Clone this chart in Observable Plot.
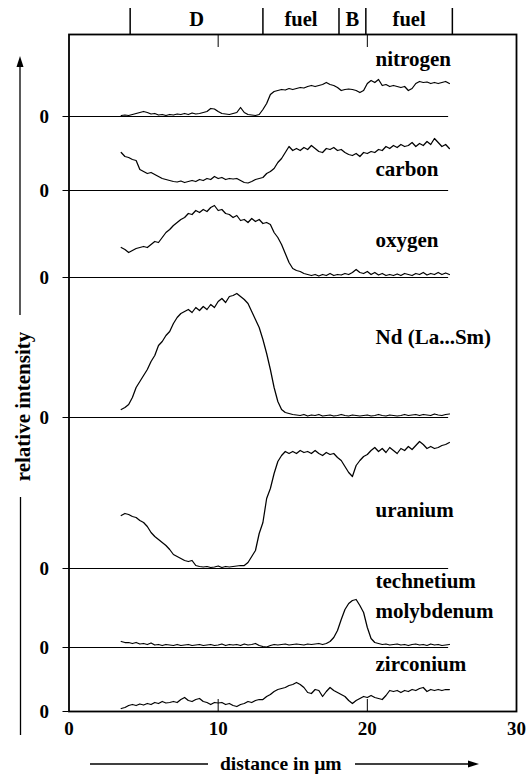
<!DOCTYPE html>
<html><head><meta charset="utf-8">
<script src="https://cdn.jsdelivr.net/npm/d3@7"></script>
<script src="https://cdn.jsdelivr.net/npm/@observablehq/plot@0.6"></script>
<style>html,body{margin:0;padding:0;background:#fff} svg{display:block}</style>
</head><body><div id="chart"></div>
<script>
// ---------- DATA ----------
// distance along the scan, µm
const distance = [3.5,3.75,4,4.25,4.5,4.75,5,5.25,5.5,5.75,6,6.25,6.5,6.75,7,7.25,7.5,7.75,8,8.25,8.5,8.75,9,9.25,9.5,9.75,10,10.25,10.5,10.75,11,11.25,11.5,11.75,12,12.25,12.5,12.75,13,13.25,13.5,13.75,14,14.25,14.5,14.75,15,15.25,15.5,15.75,16,16.25,16.5,16.75,17,17.25,17.5,17.75,18,18.25,18.5,18.75,19,19.25,19.5,19.75,20,20.25,20.5,20.75,21,21.25,21.5,21.75,22,22.25,22.5,22.75,23,23.25,23.5,23.75,24,24.25,24.5,24.75,25,25.25,25.5];

// relative intensities (arbitrary units, each above its own zero line)
const nitrogen = [
  1,1.5,1,2,3,4,5,4,
  2.5,3,1.5,2,1,2,1.5,2.5,
  2,3,2,3.5,2.5,3,4,5,
  8,7.5,5,3,2.5,2,3,4,
  9,4,2,1.5,1,2,7,13,
  22,25,26,27,26.5,28,27,28,
  29,28.5,30,31,30,31,32,34,
  32,31,29,26,27,27.5,27,26,
  24,26,33,36,34,37,31,32,
  30,31,30,29,30,26,28,33,
  35,34,34.5,33,34,33,34,35,
  33];
const carbon = [
  38,34,33,31,30,21,19,17,
  18,16,14,12,11,10,9,8.5,
  9.5,8,9,10,9,11,10,12,
  11,14,12,13,11,12,11.5,12,
  10,8,7.5,9,11,12,13,17,
  19,22,28,32,38,44,40,42,
  40,43,41,45,42,39,38,42,
  41,43,40,41,38,36,35,37,
  34,38,37,39,38,41,40,44,
  42,45,43,46,44,45,48,44,
  47,45,49,46,52,48,44,46,
  42];
const oxygen = [
  30,28,25,27,29,30,31,30,
  33,36,35,40,45,48,52,55,
  58,60,64,63,67,65,68,66,
  70,72,67,68,64,63,60,62,
  57,58,55,59,56,58,54,55,
  53,45,40,33,24,15,9,7,
  6,4,3,2,3,1.5,3,2,
  4,2,3,2.5,4,3,5,8,
  5,4,6,3,5,2.5,4,2,
  3,2,3.5,2,4,3,2,4,
  3,5,2.5,4,3,5,3,4.5,
  3];
const neodymium = [
  8,10,13,20,30,36,42,48,
  56,62,72,76,82,86,94,100,
  104,106,108,105,110,107,111,108,
  113,110,116,119,115,121,122,124,
  121,118,114,106,98,90,78,64,
  48,30,16,8,5,4,3,2.5,
  2,3,1.5,2.5,2,3,1.5,2,
  2.5,1.5,2,3,2,1.5,2.5,2,
  1.5,2,2.5,1.5,2,3,2,1.5,
  2.5,2,1.5,2,3,2,2.5,3,
  2,3,2.5,2,3.5,2.5,2,3,
  3.5];
const uranium = [
  53,55,54,52,51,48,46,42,
  36,32,29,26,23,19,14,12,
  10,8,7,8,3,2,1.5,2,
  1,1.5,2.5,1,2,1.5,2,2.5,
  3,3,6,12,18,35,46,70,
  80,95,107,113,117,115,117,115,
  118,116,117,115,118,115,113,116,
  114,115,111,108,102,96,92,103,
  108,112,114,118,121,117,120,116,
  121,118,115,120,118,122,119,123,
  127,124,120,122,120,121,123,124,
  126];
const molybdenum = [
  6,5,5,4,5,3.5,4,3,
  4.5,2.5,3,2,3,2.5,2,3,
  2,2.5,3,2,2.5,3,2,2.5,
  3,2,2.5,3.5,2,3,2.5,3,
  2,3.5,2.5,3,4,2,1,0.5,
  2,3,2.5,3,3.5,2.5,3,3.5,
  3,2.5,3.5,3,3.5,4,3,4,
  6,10,17,28,38,44,47,48,
  42,35,20,9,5,4,3,3.5,
  2.5,3,3.5,2.5,3,2,3,3.5,
  2.5,3,2,3.5,2.5,3,2,2.5,
  3];
const zirconium = [
  3,4,6,7,6,7.5,6.5,8,
  7,9,8,10,8.5,9,10,9,
  12,14,11,10,12,13,10,9,
  7,9,8.5,9,7,8,6,5,
  7,8,10,9,11,12,12,15,
  17,20,22,23,24,26,27,29,
  27,24,19,18,22,21,15,20,
  24,21,19,17,15,11,8,11,
  13,15,14,16,14,13,12,16,
  21,20,21,19,21,20,22,21,
  23,24,20,22,21,22,21,22,
  22];

// zones along the scan (µm) and their names
const zoneEdges = [4.1, 13.0, 18.1, 19.9, 25.7];
const zoneNames = ["D", "fuel", "B", "fuel"];
const xTickValues = [0, 10, 20, 30];
const xTickLabels = ["0", "10", "20", "30"];

// ---------- LAYOUT ----------
const W = 528, H = 783;
const mT = 34, mB = 72, mL = 68.5, mR = 12;
const plotH = H - mT - mB;           // y units are stacked intensity units
const FONT = "'Liberation Serif', 'Times New Roman', serif";

// zero line of each trace in the stacked y units, and label placement
const traces = [
  {name: "nitrogen",   values: nitrogen,   zero: 595, label: ["nitrogen"],                 labelY: [646]},
  {name: "carbon",     values: carbon,     zero: 521, label: ["carbon"],                   labelY: [536]},
  {name: "oxygen",     values: oxygen,     zero: 434, label: ["oxygen"],                   labelY: [465]},
  {name: "Nd",         values: neodymium,  zero: 294, label: ["Nd (La...Sm)"],             labelY: [368]},
  {name: "uranium",    values: uranium,    zero: 143, label: ["uranium"],                  labelY: [195]},
  {name: "molybdenum", values: molybdenum, zero: 64,  label: ["technetium", "molybdenum"], labelY: [124, 94]},
  {name: "zirconium",  values: zirconium,  zero: 0,   label: ["zirconium"],                labelY: [41]}
];
const labelX = 20.55;
const zeroLineEnd = 25.45;

const rows = traces.flatMap(t => t.values.map((v, i) => ({series: t.name, d: distance[i], v: v + t.zero})));
const zeros = traces.map(t => t.zero);
const labels = traces.flatMap(t => t.label.map((s, i) => ({text: s, y: t.labelY[i]})));
const zones = zoneNames.map((n, i) => ({name: n, mid: (zoneEdges[i] + zoneEdges[i + 1]) / 2}));

const topY = plotH;            // frame top, in y units
const bold = {fontFamily: FONT, fontWeight: "bold", fill: "black"};

const chart = Plot.plot({
  width: W, height: H,
  marginTop: mT, marginBottom: mB, marginLeft: mL, marginRight: mR,
  style: {fontFamily: FONT, color: "black", background: "white", overflow: "visible"},
  x: {domain: [0, 30], axis: null},
  y: {domain: [0, plotH], axis: null},
  marks: [
    // zero lines
    Plot.ruleY(zeros.filter(z => z > 0), {x1: 0, x2: zeroLineEnd, stroke: "black", strokeWidth: 1}),
    // traces
    Plot.line(rows, {x: "d", y: "v", z: "series", stroke: "black", strokeWidth: 1.25, strokeLinejoin: "round"}),
    // inner ticks at 10 and 20 (bottom and top)
    Plot.ruleX([10, 20], {y1: 0, y2: 12, stroke: "black", strokeWidth: 1}),
    Plot.ruleX([10, 20], {y1: topY - 13, y2: topY, stroke: "black", strokeWidth: 1}),
    // zone bar above the frame
    Plot.ruleX(zoneEdges, {y1: topY, y2: topY + 26, stroke: "black", strokeWidth: 1.5}),
    Plot.text(zones, {x: "mid", y: topY + 9, text: "name", lineAnchor: "bottom", fontSize: 20.5, ...bold}),
    // trace labels
    Plot.text(labels, {x: labelX, y: "y", text: "text", textAnchor: "start", lineAnchor: "bottom", fontSize: 21, ...bold}),
    // x axis tick labels
    Plot.axisX(xTickValues, {tickSize: 0, tickPadding: 10, tickFormat: (d, i) => xTickLabels[i], fontSize: 19, fontWeight: "bold", fontFamily: FONT, label: null}),
    // y axis "0" at each zero line
    Plot.axisY(zeros, {tickSize: 6, tickPadding: 14, tickFormat: () => "0", fontSize: 19, fontWeight: "bold", fontFamily: FONT, label: null}),
    // frame
    Plot.frame({stroke: "black", strokeWidth: 1.8}),
    // axis titles
    Plot.text(["relative intensity"], {frameAnchor: "left", textAnchor: "middle", dx: -45.5, dy: 33.5, rotate: -90, fontSize: 21, ...bold}),
    Plot.text(["distance in µm"], {frameAnchor: "bottom", dx: -12, dy: 58, lineAnchor: "bottom", fontSize: 19.5, ...bold})
  ]
});

// arrows around the axis titles (decoration)
const svg = d3.select(chart);
const g = svg.append("g").attr("stroke", "black").attr("stroke-width", 1.3).attr("fill", "black");
g.append("line").attr("x1", 20).attr("x2", 20).attr("y1", 315).attr("y2", 64);
g.append("path").attr("d", "M20,56 L16.5,67 L23.5,67 Z").attr("stroke", "none");
g.append("line").attr("x1", 20.5).attr("x2", 20.5).attr("y1", 497).attr("y2", 735);
g.append("line").attr("x1", 90).attr("x2", 208).attr("y1", 764).attr("y2", 764);
g.append("line").attr("x1", 355).attr("x2", 470).attr("y1", 764).attr("y2", 764);
g.append("path").attr("d", "M479,764 L468,760.5 L468,767.5 Z").attr("stroke", "none");

document.getElementById("chart").appendChild(chart);
</script>
</body></html>
